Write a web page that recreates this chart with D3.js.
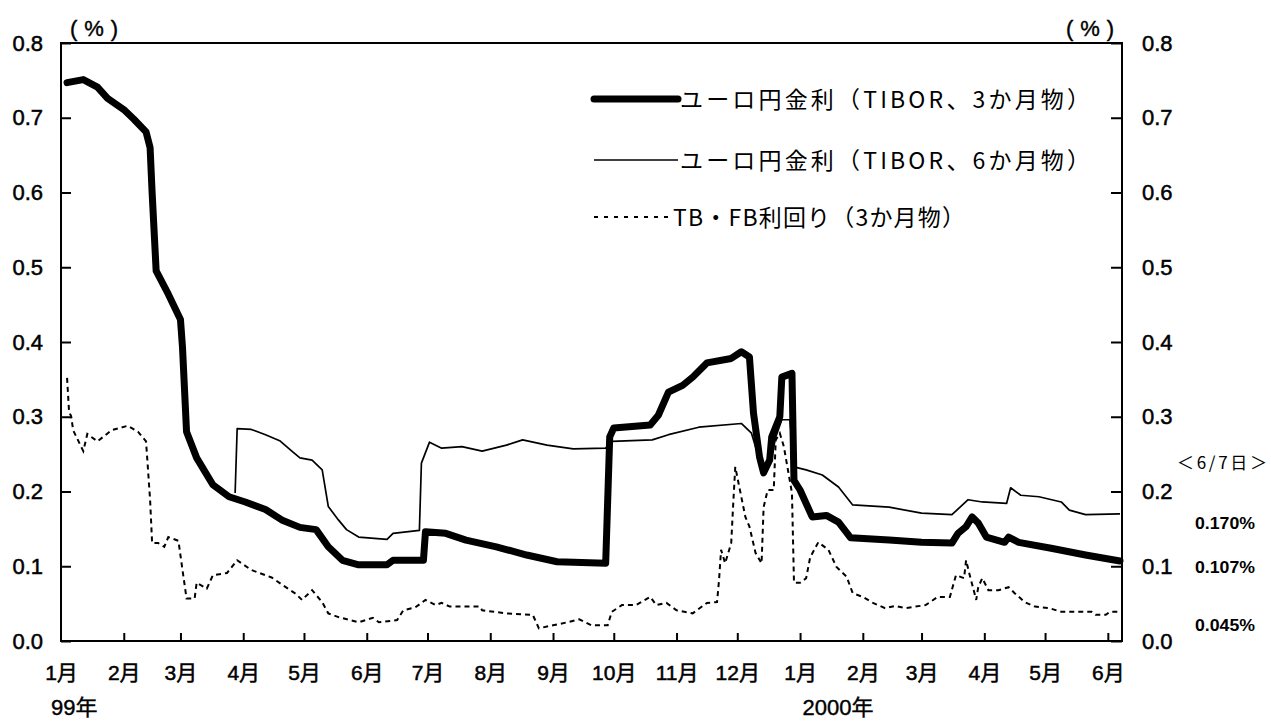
<html>
  <head>
    <meta charset="utf-8">
    <title>ユーロ円金利とTB・FB利回り</title>
    <script src="https://d3js.org/d3.v7.min.js"></script>
    <style>
      body { margin: 0; background: #fff; }
      text { fill: #000; }
    </style>
  </head>
  <body>
    <svg width="1271" height="725"></svg>

    <script type="text/javascript">
      // ユーロ円金利 (TIBOR 3か月物)
      var tibor3m = [
        ["1999-01-04",0.747],["1999-01-12",0.751],["1999-01-19",0.741],["1999-01-24",0.726],
        ["1999-02-01",0.711],["1999-02-06",0.698],["1999-02-12",0.681],["1999-02-14",0.66],
        ["1999-02-15",0.60],["1999-02-17",0.495],["1999-02-23",0.464],["1999-03-01",0.43],
        ["1999-03-02",0.393],["1999-03-04",0.28],["1999-03-09",0.245],["1999-03-17",0.209],
        ["1999-03-25",0.193],["1999-04-02",0.186],["1999-04-12",0.176],["1999-04-20",0.162],
        ["1999-04-29",0.152],["1999-05-07",0.149],["1999-05-13",0.126],["1999-05-20",0.108],
        ["1999-05-28",0.102],["1999-06-11",0.102],["1999-06-14",0.108],["1999-06-29",0.108],
        ["1999-06-30",0.146],["1999-07-10",0.144],["1999-07-20",0.135],["1999-08-04",0.126],
        ["1999-08-19",0.115],["1999-09-03",0.106],["1999-09-27",0.104],["1999-09-29",0.273],
        ["1999-10-01",0.285],["1999-10-19",0.289],["1999-10-23",0.302],["1999-10-28",0.333],
        ["1999-11-04",0.342],["1999-11-09",0.353],["1999-11-16",0.372],["1999-11-28",0.378],
        ["1999-12-03",0.387],["1999-12-07",0.38],["1999-12-09",0.305],["1999-12-12",0.246],
        ["1999-12-14",0.225],["1999-12-17",0.242],["1999-12-18",0.273],["1999-12-22",0.30],
        ["1999-12-23",0.353],["1999-12-28",0.358],["1999-12-29",0.215],["2000-01-01",0.202],
        ["2000-01-07",0.166],["2000-01-14",0.168],["2000-01-20",0.159],["2000-01-26",0.138],
        ["2000-02-14",0.135],["2000-03-01",0.132],["2000-03-16",0.131],["2000-03-19",0.144],
        ["2000-03-23",0.153],["2000-03-26",0.166],["2000-03-29",0.158],["2000-04-02",0.139],
        ["2000-04-11",0.132],["2000-04-13",0.139],["2000-04-18",0.132],["2000-05-04",0.124],
        ["2000-05-21",0.115],["2000-06-07",0.107]
      ];

      // ユーロ円金利 (TIBOR 6か月物)
      var tibor6m = [
        ["1999-03-28",0.198],["1999-03-29",0.284],["1999-04-05",0.283],["1999-04-12",0.276],
        ["1999-04-19",0.268],["1999-04-25",0.254],["1999-04-29",0.245],["1999-05-05",0.242],
        ["1999-05-10",0.229],["1999-05-13",0.18],["1999-05-18",0.162],["1999-05-22",0.149],
        ["1999-05-28",0.139],["1999-06-11",0.136],["1999-06-14",0.144],["1999-06-27",0.148],
        ["1999-06-28",0.238],["1999-07-02",0.266],["1999-07-08",0.258],["1999-07-18",0.26],
        ["1999-07-28",0.254],["1999-08-09",0.262],["1999-08-17",0.269],["1999-08-29",0.262],
        ["1999-09-11",0.257],["1999-09-27",0.258],["1999-09-30",0.267],["1999-10-20",0.269],
        ["1999-10-28",0.276],["1999-11-12",0.286],["1999-12-03",0.291],["1999-12-08",0.278],
        ["1999-12-13",0.233],["1999-12-18",0.246],["1999-12-20",0.273],["1999-12-23",0.296],
        ["1999-12-27",0.296],["1999-12-29",0.233],["2000-01-04",0.229],["2000-01-12",0.222],
        ["2000-01-20",0.206],["2000-01-27",0.182],["2000-02-14",0.179],["2000-03-01",0.171],
        ["2000-03-16",0.169],["2000-03-24",0.189],["2000-03-31",0.186],["2000-04-12",0.184],
        ["2000-04-14",0.205],["2000-04-19",0.195],["2000-04-28",0.193],["2000-05-09",0.186],
        ["2000-05-13",0.175],["2000-05-21",0.169],["2000-06-07",0.170]
      ];

      // TB・FB利回り (3か月物)
      var tbfb3m = [
        ["1999-01-04",0.352],["1999-01-05",0.306],["1999-01-06",0.301],["1999-01-07",0.282],
        ["1999-01-12",0.254],["1999-01-14",0.277],["1999-01-19",0.267],["1999-01-26",0.282],
        ["1999-02-03",0.288],["1999-02-08",0.28],["1999-02-12",0.267],["1999-02-14",0.189],
        ["1999-02-15",0.131],["1999-02-18",0.131],["1999-02-21",0.126],["1999-02-23",0.139],
        ["1999-02-28",0.134],["1999-03-02",0.095],["1999-03-04",0.057],["1999-03-08",0.057],
        ["1999-03-09",0.078],["1999-03-14",0.07],["1999-03-17",0.088],["1999-03-24",0.091],
        ["1999-03-29",0.108],["1999-04-05",0.095],["1999-04-15",0.085],["1999-04-22",0.072],
        ["1999-04-27",0.063],["1999-04-30",0.055],["1999-05-05",0.068],["1999-05-10",0.052],
        ["1999-05-13",0.037],["1999-05-18",0.032],["1999-05-28",0.025],["1999-06-04",0.031],
        ["1999-06-07",0.025],["1999-06-16",0.028],["1999-06-19",0.041],["1999-06-25",0.045],
        ["1999-06-30",0.055],["1999-07-05",0.048],["1999-07-08",0.051],["1999-07-12",0.046],
        ["1999-07-27",0.046],["1999-07-28",0.041],["1999-08-09",0.037],["1999-08-22",0.035],
        ["1999-08-25",0.017],["1999-09-01",0.021],["1999-09-08",0.025],["1999-09-14",0.029],
        ["1999-09-20",0.021],["1999-09-28",0.021],["1999-09-30",0.039],["1999-10-05",0.048],
        ["1999-10-12",0.048],["1999-10-19",0.059],["1999-10-22",0.048],["1999-10-27",0.051],
        ["1999-11-01",0.041],["1999-11-09",0.037],["1999-11-16",0.051],["1999-11-21",0.052],
        ["1999-11-22",0.082],["1999-11-23",0.122],["1999-11-25",0.104],["1999-11-28",0.131],
        ["1999-11-29",0.184],["1999-11-30",0.233],["1999-12-02",0.206],["1999-12-05",0.166],
        ["1999-12-07",0.153],["1999-12-10",0.118],["1999-12-13",0.104],["1999-12-14",0.179],
        ["1999-12-16",0.202],["1999-12-19",0.202],["1999-12-20",0.269],["1999-12-22",0.278],
        ["1999-12-24",0.26],["1999-12-28",0.198],["1999-12-29",0.078],["2000-01-01",0.078],
        ["2000-01-04",0.084],["2000-01-06",0.112],["2000-01-10",0.132],["2000-01-15",0.122],
        ["2000-01-19",0.099],["2000-01-24",0.086],["2000-01-27",0.064],["2000-02-01",0.059],
        ["2000-02-06",0.051],["2000-02-12",0.044],["2000-02-17",0.047],["2000-02-22",0.044],
        ["2000-03-03",0.048],["2000-03-09",0.059],["2000-03-15",0.059],["2000-03-18",0.088],
        ["2000-03-22",0.084],["2000-03-23",0.108],["2000-03-25",0.086],["2000-03-28",0.055],
        ["2000-03-29",0.072],["2000-03-31",0.084],["2000-04-03",0.068],["2000-04-08",0.068],
        ["2000-04-13",0.072],["2000-04-16",0.064],["2000-04-21",0.052],["2000-04-26",0.046],
        ["2000-05-03",0.044],["2000-05-09",0.039],["2000-05-24",0.039],["2000-05-26",0.035],
        ["2000-05-31",0.035],["2000-06-02",0.039],["2000-06-07",0.039]
      ];

      var monthTicks = ["1999-01-01","1999-02-01","1999-03-01","1999-04-01","1999-05-01","1999-06-01",
        "1999-07-01","1999-08-01","1999-09-01","1999-10-01","1999-11-01","1999-12-01",
        "2000-01-01","2000-02-01","2000-03-01","2000-04-01","2000-05-01","2000-06-01"];
      var monthLabels = ["1月","2月","3月","4月","5月","6月","7月","8月","9月","10月","11月","12月",
        "1月","2月","3月","4月","5月","6月"];
      var yTicks = [0, 0.1, 0.2, 0.3, 0.4, 0.5, 0.6, 0.7, 0.8];
      var legendNames = ["ユーロ円金利（TIBOR、3か月物）", "ユーロ円金利（TIBOR、6か月物）", "TB・FB利回り（3か月物）"];
      var lastDay = "＜6/7日＞";
      var lastValues = ["0.170%", "0.107%", "0.045%"];

      var margin = {top: 43, right: 149, bottom: 84, left: 61};
      var width = 1271 - margin.left - margin.right;
      var height = 725 - margin.top - margin.bottom;

      var parse = d3.utcParse("%Y-%m-%d");
      var xScale = d3.scaleUtc().domain([parse("1999-01-01"), parse("2000-06-08")]).range([0, width]);
      var yScale = d3.scaleLinear().domain([0, 0.8]).range([height, 0]);

      var fontNum = "'Liberation Sans', Arial, sans-serif";
      var fontJa = "'Liberation Sans', 'Noto Sans CJK JP', sans-serif";
      var fontCjk = "'Noto Sans CJK JP', sans-serif";

      var mySVG = d3.select("svg")
        .append("g")
        .attr("transform", "translate(" + margin.left + "," + margin.top + ")");

      // axes, ticks point inward
      var yLeft = d3.axisLeft(yScale).tickValues(yTicks).tickFormat(d3.format(".1f"))
        .tickSize(-10).tickPadding(18);
      var yRight = d3.axisRight(yScale).tickValues(yTicks).tickFormat(d3.format(".1f"))
        .tickSize(-11).tickPadding(20);
      var xAxis = d3.axisBottom(xScale).tickValues(monthTicks.map(parse))
        .tickFormat((d, i) => monthLabels[i]).tickSize(-8).tickPadding(24);

      var yLeftGroup = mySVG.append("g").attr("class", "yAxis").call(yLeft);
      var yRightGroup = mySVG.append("g").attr("class", "yAxis")
        .attr("transform", "translate(" + width + ",0)").call(yRight);
      var xAxisGroup = mySVG.append("g").attr("class", "xAxis")
        .attr("transform", "translate(0," + height + ")").call(xAxis);

      [yLeftGroup, yRightGroup, xAxisGroup].forEach(function (g) {
        g.select(".domain").remove();
        g.selectAll(".tick line").attr("stroke", "#000").attr("stroke-width", 2);
        g.selectAll("text").attr("fill", "#000").attr("stroke", "#000").attr("stroke-width", 0.5);
      });
      yLeftGroup.selectAll("text").style("font-family", fontNum).style("font-size", "22px");
      yRightGroup.selectAll("text").style("font-family", fontNum).style("font-size", "22px");
      xAxisGroup.selectAll("text").style("font-family", fontJa).style("font-size", "21px");
      xAxisGroup.select(".tick").select("line").remove();

      // frame
      mySVG.append("rect")
        .attr("x", 0).attr("y", 0).attr("width", width).attr("height", height)
        .attr("fill", "none").attr("stroke", "#000").attr("stroke-width", 2);

      // lines
      var line = d3.line()
        .x(d => xScale(parse(d[0])))
        .y(d => yScale(d[1]));

      mySVG.append("path").datum(tbfb3m)
        .attr("d", line).attr("fill", "none").attr("stroke", "#000")
        .attr("stroke-width", 2).attr("stroke-dasharray", "5,4");

      mySVG.append("path").datum(tibor6m)
        .attr("d", line).attr("fill", "none").attr("stroke", "#000")
        .attr("stroke-width", 1.7).attr("stroke-linejoin", "round");

      mySVG.append("path").datum(tibor3m)
        .attr("d", line).attr("fill", "none").attr("stroke", "#000")
        .attr("stroke-width", 7).attr("stroke-linejoin", "round").attr("stroke-linecap", "round");

      // unit labels
      var svg = d3.select("svg");
      [94, 1090].forEach(function (cx) {
        svg.append("text").attr("x", cx).attr("y", 36).attr("text-anchor", "middle")
          .attr("textLength", 48).attr("lengthAdjust", "spacing")
          .attr("stroke", "#000").attr("stroke-width", 0.4)
          .style("font-family", fontNum).style("font-size", "22px").text("(%)");
      });

      // year labels
      svg.append("text").attr("x", 51).attr("y", 715)
        .attr("stroke", "#000").attr("stroke-width", 0.4)
        .style("font-family", fontJa).style("font-size", "22px").text("99年");
      svg.append("text").attr("x", 838).attr("y", 715).attr("text-anchor", "middle")
        .attr("stroke", "#000").attr("stroke-width", 0.4)
        .style("font-family", fontJa).style("font-size", "22px").text("2000年");

      // legend
      var legendY = [99, 160, 217];
      var legendLine = [{w: 7, dash: null, x2: 678, tx: 680, tw: 410},
                        {w: 1.7, dash: null, x2: 678, tx: 680, tw: 410},
                        {w: 2, dash: "4,6", x2: 673, tx: 673, tw: 292}];
      var legend = svg.append("g");
      legendNames.forEach(function (name, i) {
        legend.append("line")
          .attr("x1", 594).attr("x2", legendLine[i].x2)
          .attr("y1", legendY[i]).attr("y2", legendY[i])
          .attr("stroke", "#000").attr("stroke-width", legendLine[i].w)
          .attr("stroke-linecap", i == 0 ? "round" : "butt")
          .attr("stroke-dasharray", legendLine[i].dash);
        legend.append("text")
          .attr("x", legendLine[i].tx).attr("y", legendY[i] + 9)
          .attr("textLength", legendLine[i].tw).attr("lengthAdjust", "spacing")
          .style("font-family", fontCjk).style("font-size", "23px")
          .text(name);
      });

      // latest values
      svg.append("text").attr("x", 1222).attr("y", 469).attr("text-anchor", "middle")
        .attr("textLength", 90).attr("lengthAdjust", "spacing")
        .style("font-family", fontCjk).style("font-size", "17px")
        .text(lastDay);
      var valueY = [529, 573, 631];
      lastValues.forEach(function (v, i) {
        svg.append("text").attr("x", 1225).attr("y", valueY[i]).attr("text-anchor", "middle")
          .attr("textLength", 60).attr("lengthAdjust", "spacingAndGlyphs")
          .style("font-family", fontNum).style("font-size", "17px").style("font-weight", "bold")
          .text(v);
      });
    </script>
  </body>
</html>
